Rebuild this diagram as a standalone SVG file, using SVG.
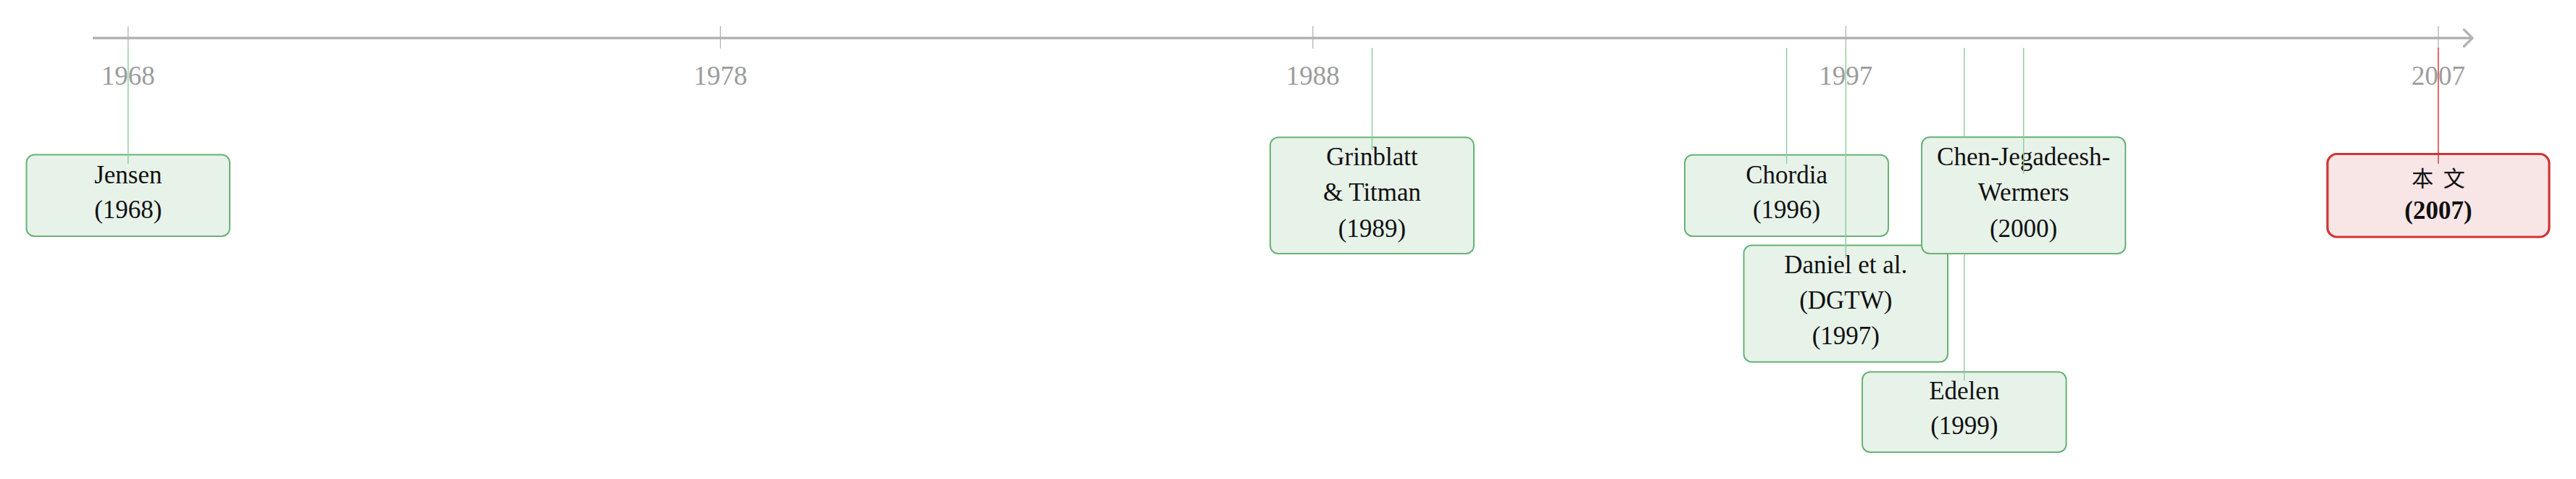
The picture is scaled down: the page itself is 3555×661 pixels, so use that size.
<svg xmlns="http://www.w3.org/2000/svg" width="3555" height="661" viewBox="0 0 3555 661">
<style>
.tick{stroke:#b3b3b3;stroke-width:1.3;fill:none}
.ylab{font-family:"Liberation Serif","DejaVu Serif",serif;font-size:37px;fill:#9c9c9c;text-anchor:middle}
.box{fill:#e7f2e9;stroke:#68b277;stroke-width:2}
.hbox{fill:#f8e5e6;stroke:#cf3535;stroke-width:3.2}
.t{font-family:"Liberation Serif","DejaVu Serif",serif;font-size:35px;fill:#111;text-anchor:middle}
.cn{font-family:"Liberation Serif","Noto Sans CJK SC",serif;font-size:30px;fill:#111;text-anchor:middle;letter-spacing:3px}
.b{font-weight:bold}
.con{stroke:#8ecb9c;stroke-width:1.4;fill:none}
.conr{stroke:#d03030;stroke-width:1.4;fill:none}
</style>
<defs>
<marker id="arr" markerUnits="userSpaceOnUse" markerWidth="30" markerHeight="30" refX="14" refY="15" orient="auto" viewBox="0 0 30 30">
<path d="M2.5 3.5 L14 15 L2.5 26.5" fill="none" stroke="#b3b3b3" stroke-width="3.4" stroke-linecap="round" stroke-linejoin="round"/>
</marker>
</defs>
<rect width="3555" height="661" fill="#fff"/>
<g id="axis">
<line x1="128" y1="52.5" x2="3412" y2="52.5" stroke="#b3b3b3" stroke-width="3.4" marker-end="url(#arr)"/>
<path class="tick" d="M176.8 36V67 M994.3 36V67 M1811.8 36V67 M2547.3 36V67 M3365 36V67"/>
<text class="ylab" x="176.8" y="117">1968</text>
<text class="ylab" x="994.3" y="117">1978</text>
<text class="ylab" x="1811.8" y="117">1988</text>
<text class="ylab" x="2547.3" y="117">1997</text>
<text class="ylab" x="3365" y="117">2007</text>
</g>
<g id="jensen">
<rect class="box" x="36.5" y="213.5" width="280.5" height="112.5" rx="11"/>
<text class="t" x="176.8" y="252.5">Jensen</text>
<text class="t" x="176.8" y="300.5">(1968)</text>
</g>
<g id="grinblatt">
<rect class="box" x="1753" y="189.5" width="281" height="160.5" rx="11"/>
<text class="t" x="1893.5" y="228.3">Grinblatt</text>
<text class="t" x="1893.5" y="277.3">&amp; Titman</text>
<text class="t" x="1893.5" y="326.5">(1989)</text>
</g>
<g id="chordia">
<rect class="box" x="2325" y="213.7" width="281" height="112.2" rx="11"/>
<text class="t" x="2465.6" y="253">Chordia</text>
<text class="t" x="2465.6" y="300.8">(1996)</text>
</g>
<g id="daniel">
<rect class="box" x="2406.5" y="338.5" width="281.5" height="161" rx="11"/>
<text class="t" x="2547.3" y="377.3">Daniel et al.</text>
<text class="t" x="2547.3" y="426">(DGTW)</text>
<text class="t" x="2547.3" y="474.5">(1997)</text>
</g>
<g id="edelen">
<rect class="box" x="2570" y="513.3" width="281.5" height="110.7" rx="11"/>
<text class="t" x="2710.8" y="550.5">Edelen</text>
<text class="t" x="2710.8" y="598.6">(1999)</text>
</g>
<g id="chen">
<rect class="box" x="2652" y="189.3" width="281.2" height="160.7" rx="11"/>
<text class="t" x="2792.6" y="228.3">Chen-Jegadeesh-</text>
<text class="t" x="2792.6" y="277.3">Wermers</text>
<text class="t" x="2792.6" y="326.6">(2000)</text>
</g>
<g id="this-paper">
<rect class="hbox" x="3212" y="212.5" width="306" height="114.5" rx="13"/>
<text class="cn" x="3366.5" y="256.5">本 文</text>
<text class="t b" x="3365" y="301.7">(2007)</text>
</g>
<g id="connectors">
<path class="con" d="M176.8 66V226"/>
<path class="con" d="M1893.5 66V207"/>
<path class="con" d="M2465.6 66V226"/>
<path class="con" d="M2547.3 66V356"/>
<path class="con" d="M2710.8 66V189.3 M2710.8 350V525"/>
<path class="con" d="M2792.7 66V240"/>
<path class="conr" d="M3365 66V226"/>
</g>
</svg>
